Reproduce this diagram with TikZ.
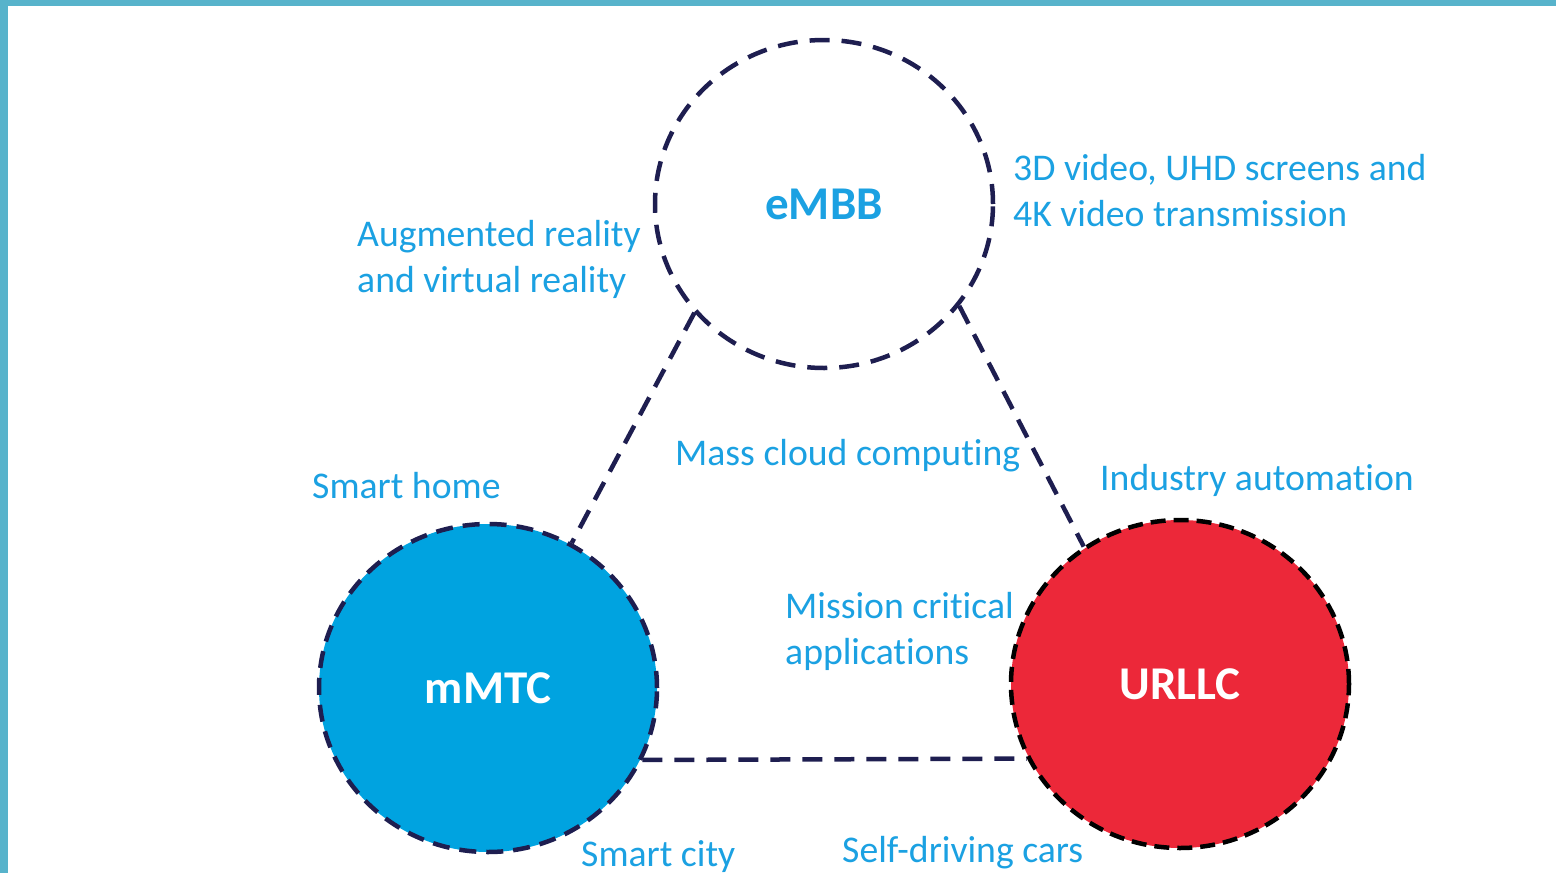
\documentclass[tikz,border=0pt]{standalone}
\usepackage{fontspec}
\setmainfont{Carlito}[Ligatures={NoCommon}]
\usetikzlibrary{shapes.geometric}
\definecolor{txtblue}{HTML}{1BA1E2}
\definecolor{fillblue}{HTML}{00A3E0}
\definecolor{fillred}{HTML}{EC2839}
\definecolor{navy}{HTML}{1E1E50}
\definecolor{framecol}{HTML}{57B3CB}
\begin{document}
\begin{tikzpicture}[x=1pt,y=-1pt,
  lab/.style={inner sep=0pt, anchor=base west, align=left, text=txtblue, font=\fontsize{37.7}{46}\selectfont},
  svc/.style={shape=ellipse, inner sep=0pt, minimum width=338pt, minimum height=328pt, line width=4.5pt, font=\fontsize{47}{56}\selectfont\bfseries},
  link/.style={draw=navy, line width=4.5pt, dash pattern=on 20pt off 12pt}]
\useasboundingbox (0,0) rectangle (1556,873);
\fill[white] (0,0) rectangle (1556,873);
\fill[framecol] (0,0) rectangle (1556,6);
\fill[framecol] (0,0) rectangle (8,873);

\node[svc, draw=navy, dash pattern=on 20pt off 12pt, text=txtblue] (embb) at (824,204) {eMBB};
\node[svc, draw=navy, fill=fillblue, dash pattern=on 17pt off 10pt, text=white] (mmtc) at (488,688) {mMTC};
\node[svc, draw=black, fill=fillred, dash pattern=on 15pt off 8pt, text=white] (urllc) at (1180,684) {URLLC};

\draw[link] (embb.220) -- (mmtc.60);
\draw[link] (embb.323) -- (urllc.125);
\draw[link] (mmtc.335.6) -- (urllc.206.6);

\node[lab] (ar) at (357,292) {Augmented reality\\and virtual reality};
\node[lab] (video) at (1013,226) {3D video, UHD screens and\\4K video transmission};
\node[lab] (cloud) at (675,465) {Mass cloud computing};
\node[lab] (home) at (312,498) {Smart home};
\node[lab] (industry) at (1100,490) {Industry automation};
\node[lab] (mission) at (785,664) {Mission critical\\applications};
\node[lab] (city) at (581,866) {Smart city};
\node[lab] (cars) at (842,862) {Self-driving cars};
\end{tikzpicture}
\end{document}
